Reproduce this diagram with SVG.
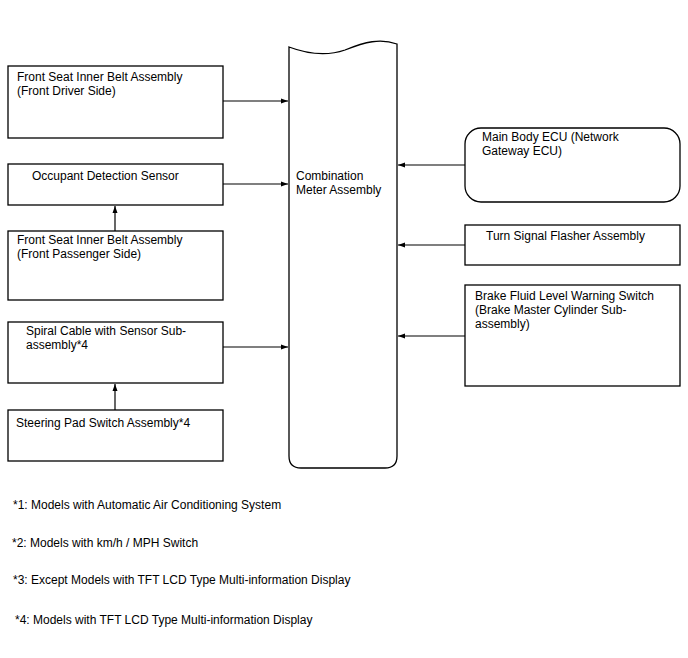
<svg xmlns="http://www.w3.org/2000/svg" width="688" height="658" viewBox="0 0 688 658">
<style>
.b{fill:#fff;stroke:#000;stroke-width:1.3}
.t{font-family:"Liberation Sans",Arial,sans-serif;font-size:12px;fill:#000}
.c{stroke:#000;stroke-width:1.2;fill:none}
</style>
<defs>
<marker id="ah" markerWidth="8" markerHeight="6" refX="7" refY="3" orient="auto" markerUnits="userSpaceOnUse">
<path d="M0,0.5 L7,3 L0,5.5 Z" fill="#000"/>
</marker>
</defs>
<rect width="688" height="658" fill="#fff"/>
<g id="meter">
<path class="b" d="M289,47 C305,53 325,57 345,50 C365,42 380,38 397,44 L397,456 Q397,468 385,468 L301,468 Q289,468 289,456 Z"/>
<text class="t" x="296" y="180">Combination</text>
<text class="t" x="296" y="194">Meter Assembly</text>
</g>
<g id="driver-belt">
<rect class="b" x="8" y="66" width="215" height="72"/>
<text class="t" x="17" y="81">Front Seat Inner Belt Assembly</text>
<text class="t" x="17" y="95">(Front Driver Side)</text>
</g>
<g id="occupant">
<rect class="b" x="8" y="164" width="215" height="41"/>
<text class="t" x="32" y="180">Occupant Detection Sensor</text>
</g>
<g id="passenger-belt">
<rect class="b" x="8" y="231" width="215" height="69"/>
<text class="t" x="17" y="244">Front Seat Inner Belt Assembly</text>
<text class="t" x="17" y="258">(Front Passenger Side)</text>
</g>
<g id="spiral">
<rect class="b" x="8" y="322" width="215" height="61"/>
<text class="t" x="26" y="335">Spiral Cable with Sensor Sub-</text>
<text class="t" x="26" y="349">assembly*4</text>
</g>
<g id="steering">
<rect class="b" x="8" y="410" width="215" height="51"/>
<text class="t" x="16" y="427">Steering Pad Switch Assembly*4</text>
</g>
<g id="main-body">
<rect class="b" x="465" y="128" width="215" height="74" rx="16" ry="16"/>
<text class="t" x="482" y="141">Main Body ECU (Network</text>
<text class="t" x="482" y="155">Gateway ECU)</text>
</g>
<g id="turn">
<rect class="b" x="465" y="225" width="215" height="40"/>
<text class="t" x="486" y="240">Turn Signal Flasher Assembly</text>
</g>
<g id="brake">
<rect class="b" x="465" y="285" width="215" height="101"/>
<text class="t" x="475" y="300">Brake Fluid Level Warning Switch</text>
<text class="t" x="475" y="314">(Brake Master Cylinder Sub-</text>
<text class="t" x="475" y="328">assembly)</text>
</g>
<g id="connectors">
<line class="c" x1="223" y1="101" x2="288" y2="101" marker-end="url(#ah)"/>
<line class="c" x1="223" y1="184" x2="288" y2="184" marker-end="url(#ah)"/>
<line class="c" x1="223" y1="347" x2="288" y2="347" marker-end="url(#ah)"/>
<line class="c" x1="115" y1="231" x2="115" y2="206" marker-end="url(#ah)"/>
<line class="c" x1="115" y1="410" x2="115" y2="384" marker-end="url(#ah)"/>
<line class="c" x1="465" y1="165" x2="398" y2="165" marker-end="url(#ah)"/>
<line class="c" x1="465" y1="245" x2="398" y2="245" marker-end="url(#ah)"/>
<line class="c" x1="465" y1="336" x2="398" y2="336" marker-end="url(#ah)"/>
</g>
<g id="notes">
<text class="t" x="13" y="509">*1: Models with Automatic Air Conditioning System</text>
<text class="t" x="12" y="547">*2: Models with km/h / MPH Switch</text>
<text class="t" x="13" y="584">*3: Except Models with TFT LCD Type Multi-information Display</text>
<text class="t" x="15" y="624">*4: Models with TFT LCD Type Multi-information Display</text>
</g>
</svg>
